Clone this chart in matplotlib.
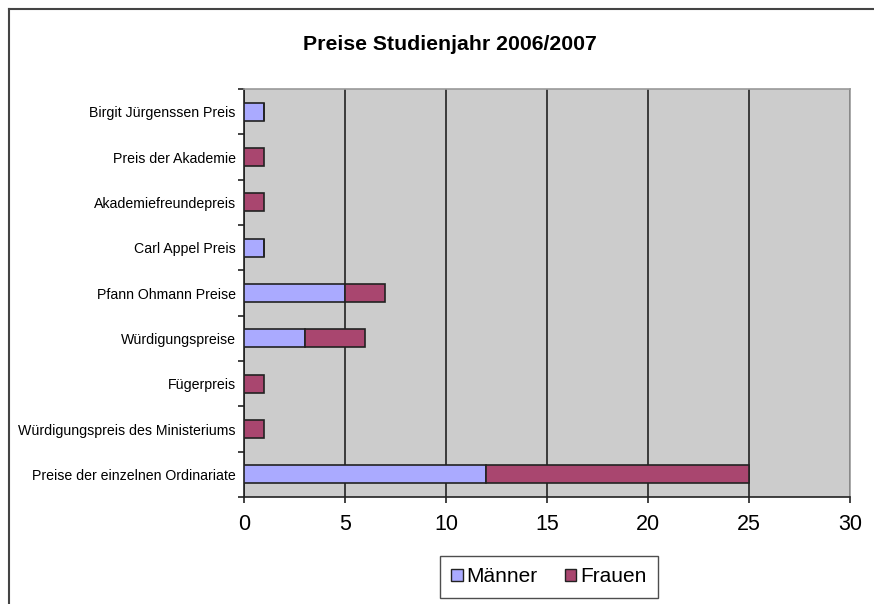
import matplotlib
matplotlib.use("Agg")
import matplotlib.pyplot as plt
from matplotlib.lines import Line2D
from matplotlib.patches import Patch
import numpy as np

categories = ["Birgit Jürgenssen Preis", "Preis der Akademie", "Akademiefreundepreis",
              "Carl Appel Preis", "Pfann Ohmann Preise", "Würdigungspreise",
              "Fügerpreis", "Würdigungspreis des Ministeriums",
              "Preise der einzelnen Ordinariate"]
maenner = [1, 0, 0, 1, 5, 3, 0, 0, 12]
frauen = [0, 1, 1, 0, 2, 3, 1, 1, 13]
x_ticks = [0, 5, 10, 15, 20, 25, 30]

plt.rcParams['font.family'] = ['Liberation Sans', 'DejaVu Sans']

W, H = 874, 604
fig = plt.figure(figsize=(W/100, H/100), dpi=100)
ax = fig.add_axes([244/W, 1-497/H, (850-244)/W, (497-89)/H])
ax.set_facecolor('#cccccc')

n = len(categories)
y = np.arange(n)[::-1]
c_m = '#aaaaff'
c_f = '#a9466f'
ax.barh(y, maenner, height=0.4, color=c_m, edgecolor='#222222', linewidth=1.2, zorder=3)
ax.barh(y, frauen, left=maenner, height=0.4, color=c_f, edgecolor='#222222', linewidth=1.2, zorder=3)

ax.set_xlim(0, 30)
ax.set_ylim(-0.5, n-0.5)
ax.set_xticks(x_ticks)
ax.set_xticklabels([str(t) for t in x_ticks], fontsize=15.5)
ax.set_yticks(y)
ax.set_yticklabels(categories, fontsize=10.2)
ax.set_yticks(np.arange(-0.5, n), minor=True)
ax.tick_params(axis='y', which='major', length=0, pad=6)
ax.tick_params(axis='y', which='minor', length=4, width=1.2, color='#222222', direction='out')
ax.tick_params(axis='x', which='major', length=4, width=1.2, color='#222222', pad=8)
ax.xaxis.grid(True, color='#222222', linewidth=1.2, zorder=1)
ax.set_axisbelow(True)
for s in ['top', 'right']:
    ax.spines[s].set_color('#999999')
    ax.spines[s].set_linewidth(1.2)
for s in ['left', 'bottom']:
    ax.spines[s].set_color('#222222')
    ax.spines[s].set_linewidth(1.2)

fig.text(450/W, 1-45/H, "Preise Studienjahr 2006/2007", ha='center', va='center',
         fontsize=15.3, fontweight='bold')

handles = [Patch(facecolor=c_m, edgecolor='#222222', linewidth=1.0, label='Männer'),
           Patch(facecolor=c_f, edgecolor='#222222', linewidth=1.0, label='Frauen')]
leg = fig.legend(handles=handles, loc='center', bbox_to_anchor=(549/W, 1-577/H), ncol=2,
                 fontsize=15, frameon=True, fancybox=False, handlelength=0.55, handleheight=0.55,
                 handletextpad=0.2, columnspacing=1.3, borderpad=0.55)
leg.get_frame().set_edgecolor('#222222')
leg.get_frame().set_linewidth(1.0)

fig.add_artist(Line2D([9/W, 1], [1-9/H, 1-9/H], color='#444444', linewidth=1.5))
fig.add_artist(Line2D([9/W, 9/W], [1-9/H, 0], color='#444444', linewidth=1.5))

fig.savefig('out.png', dpi=100)
